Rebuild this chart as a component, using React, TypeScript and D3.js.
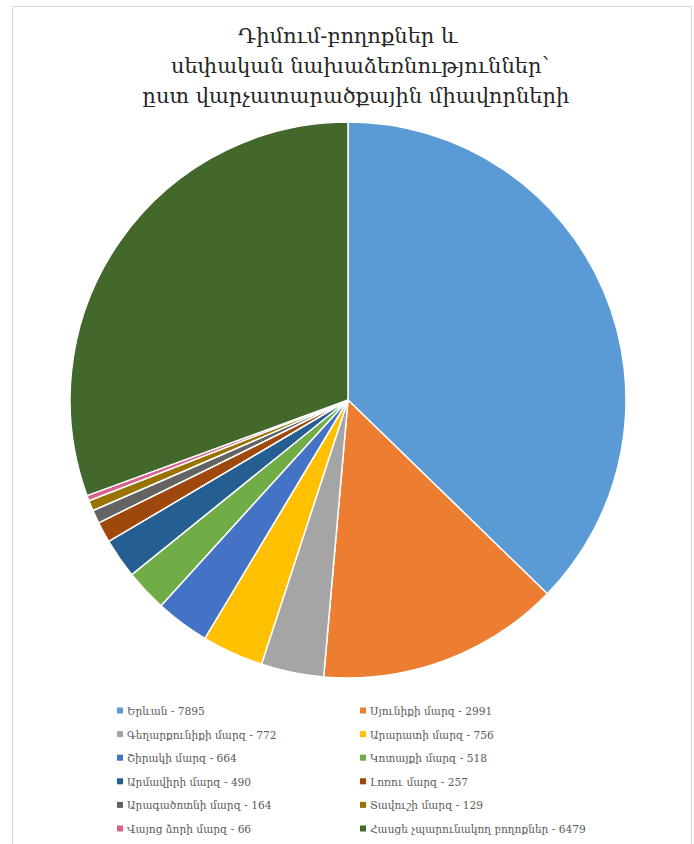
import React from 'react';
import * as d3 from 'd3';

const titleLines = [
  'Դիմում-բողոքներ և',
  'սեփական նախաձեռնություններ՝',
  'ըստ վարչատարածքային միավորների',
];
// horizontal centre of each title line (Word leaves them slightly uneven)
const titleCenters = [348, 360, 356];

const regions = [
  'Երևան',
  'Սյունիքի մարզ',
  'Գեղարքունիքի մարզ',
  'Արարատի մարզ',
  'Շիրակի մարզ',
  'Կոտայքի մարզ',
  'Արմավիրի մարզ',
  'Լոռու մարզ',
  'Արագածոտնի մարզ',
  'Տավուշի մարզ',
  'Վայոց ձորի մարզ',
  'Հասցե չպարունակող բողոքներ',
];

const counts = [7895, 2991, 772, 756, 664, 518, 490, 257, 164, 129, 66, 6479];

const colors = [
  '#5b9bd5', '#ed7d31', '#a5a5a5', '#ffc000', '#4472c4', '#70ad47',
  '#255e91', '#9e480e', '#636363', '#997300', '#d9608f', '#43682b',
];

interface Slice {
  name: string;
  value: number;
  color: string;
}

const slices: Slice[] = regions.map((name, i) => ({ name, value: counts[i], color: colors[i] }));

const W = 694;
const H = 844;
const cx = 348;
const cy = 400;
const radius = 278;

const App: React.FC = () => {
  const pie = d3.pie<Slice>().value(d => d.value).sort(null);
  const arc = d3.arc<d3.PieArcDatum<Slice>>().innerRadius(0).outerRadius(radius);
  const arcs = pie(slices);

  // legend: two columns, filled row by row
  const rowY = d3.scaleLinear().domain([0, 1]).range([711, 734.6]);
  const colX = [117, 360];
  const font = '"DejaVu Serif", "Noto Serif", serif';

  return (
    <svg width={W} height={H} style={{ position: 'absolute', left: 0, top: 0 }}>
      <rect x={0} y={0} width={W} height={H} fill="#ffffff" />
      <rect x={12.5} y={6.5} width={679} height={860} fill="#ffffff" stroke="#d9d9d9" strokeWidth={1} />

      <g fontFamily={font} fill="#262626" fontSize={21} textAnchor="middle">
        {titleLines.map((t, i) => (
          <text key={i} x={titleCenters[i]} y={43 + i * 30}>{t}</text>
        ))}
      </g>

      <g transform={`translate(${cx},${cy})`}>
        {arcs.map((a, i) => (
          <path key={i} d={arc(a) || ''} fill={a.data.color} stroke="#ffffff" strokeWidth={1.5} strokeLinejoin="round" />
        ))}
      </g>

      <g fontFamily={font} fontSize={10.6} fill="#595959">
        {slices.map((s, i) => {
          const x = colX[i % 2];
          const y = rowY(Math.floor(i / 2));
          return (
            <g key={i}>
              <rect x={x} y={y - 3.5} width={6} height={6} fill={s.color} />
              <text x={x + 10} y={y + 4}>{`${s.name} - ${s.value}`}</text>
            </g>
          );
        })}
      </g>
    </svg>
  );
};

export default App;
